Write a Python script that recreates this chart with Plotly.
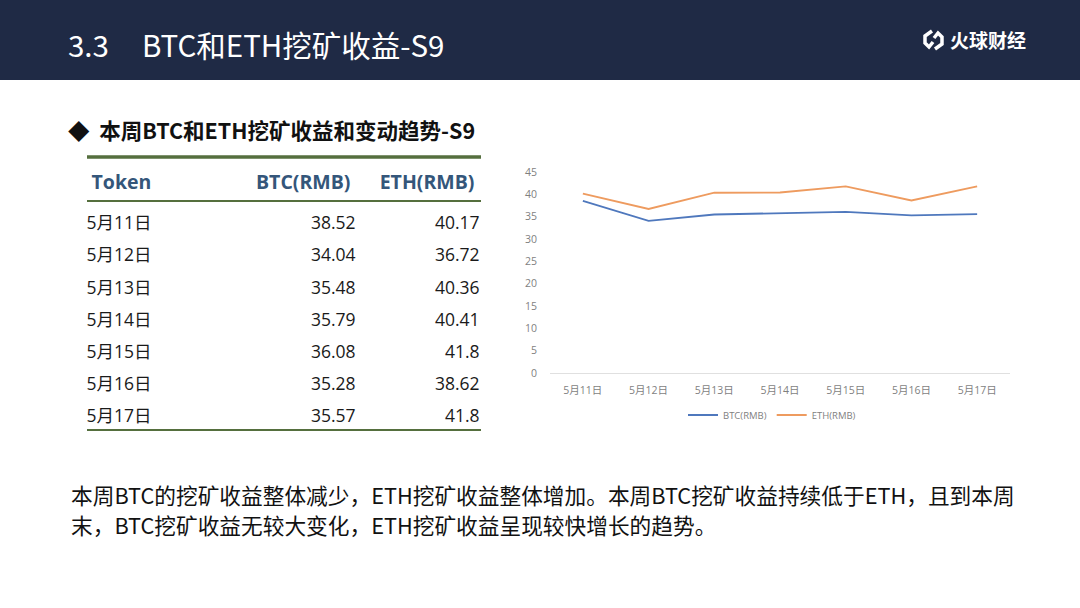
import plotly.graph_objects as go

# data
dates = ['5月11日', '5月12日', '5月13日', '5月14日', '5月15日', '5月16日', '5月17日']
btc_rmb = [38.52, 34.04, 35.48, 35.79, 36.08, 35.28, 35.57]
eth_rmb = [40.17, 36.72, 40.36, 40.41, 41.8, 38.62, 41.8]
eth_labels = ['40.17', '36.72', '40.36', '40.41', '41.8', '38.62', '41.8']
table_header = ['\u00a0<b>Token</b>', '<b>BTC(RMB)</b>\u00a0', '<b>ETH(RMB)</b>\u00a0']
y_ticks = [0, 5, 10, 15, 20, 25, 30, 35, 40, 45]

W, H = 1080, 608
CJK = 'Noto Sans CJK SC'
TBL = 'Open Sans, Noto Sans CJK SC'
GREEN = '#556f3e'


def px(v):
    return v / W


def py(v):
    return 1 - v / H


fig = go.Figure()

# table on the left
fig.add_trace(go.Table(
    domain=dict(x=[px(78.5), px(488)], y=[py(434), py(160)]),
    columnwidth=[175, 110, 124],
    header=dict(
        values=table_header,
        align=['left', 'right', 'right'],
        font=dict(family=TBL, size=19.5, color='#34567a'),
        fill_color='white',
        line_color='white',
        height=48,
    ),
    cells=dict(
        values=[dates, [f'{v:.2f}' for v in btc_rmb], eth_labels],
        align=['left', 'right', 'right'],
        font=dict(family=TBL, size=17.5, color='#1a1a1a'),
        fill_color='white',
        line_color='white',
        height=32.2,
    ),
))

# line chart on the right
fig.add_trace(go.Scatter(
    x=dates, y=btc_rmb, name='BTC(RMB)', mode='lines',
    line=dict(color='#4f78bd', width=1.8),
))
fig.add_trace(go.Scatter(
    x=dates, y=eth_rmb, name='ETH(RMB)', mode='lines',
    line=dict(color='#ee9b5f', width=1.8),
))

fig.update_layout(
    width=W, height=H, autosize=False,
    margin=dict(l=0, r=0, t=0, b=0, pad=0, autoexpand=False),
    paper_bgcolor='white',
    plot_bgcolor='white',
    font=dict(family=CJK, color='#808080'),
    xaxis=dict(
        domain=[px(550), px(1010)], automargin=False,
        range=[-0.5, 6.5],
        showgrid=False, zeroline=False,
        showline=False,
        tickfont=dict(family=TBL, size=10.5, color='#7f7f7f'),
        ticks='', ticklabelstandoff=9,
    ),
    yaxis=dict(
        domain=[py(373), py(172)], automargin=False,
        range=[0, 45], tickvals=y_ticks,
        showgrid=False, zeroline=True, zerolinecolor='#e0e0e0', zerolinewidth=1,
        showline=False,
        tickfont=dict(family=TBL, size=10.5, color='#7f7f7f'),
        ticks='', ticklabelstandoff=12,
    ),
    legend=dict(
        orientation='h', x=px(772), xanchor='center', y=py(415), yanchor='middle',
        font=dict(family=TBL, size=9.5, color='#7f7f7f'),
        itemwidth=30, tracegroupgap=0,
    ),
    showlegend=True,
)

# header band and rules
fig.add_shape(type='rect', xref='paper', yref='paper', x0=0, x1=1, y0=py(80), y1=1,
              fillcolor='#1f2a45', line_width=0, layer='below')
fig.add_shape(type='line', xref='paper', yref='paper', x0=px(87), x1=px(481), y0=py(157), y1=py(157),
              line=dict(color=GREEN, width=3.5))
fig.add_shape(type='line', xref='paper', yref='paper', x0=px(87), x1=px(481), y0=py(201), y1=py(201),
              line=dict(color=GREEN, width=2.2))
fig.add_shape(type='line', xref='paper', yref='paper', x0=px(87), x1=px(481), y0=py(430), y1=py(430),
              line=dict(color=GREEN, width=2.2))

# logo icon
icon_paths = [
    [(932, 31), (925, 36), (925, 43), (929, 47), (933, 42)],
    [(934, 38), (938, 33), (942, 37), (942, 44), (935, 49)],
]
for pts in icon_paths:
    path = 'M ' + ' L '.join(f'{px(x):.5f},{py(y):.5f}' for x, y in pts)
    fig.add_shape(type='path', xref='paper', yref='paper', path=path,
                  line=dict(color='white', width=3.5))

texts = [
    dict(text='3.3\u00a0\u00a0\u00a0\u00a0\u00a0BTC和ETH挖矿收益-S9', x=px(66), y=py(44), size=29.5, color='white'),
    dict(text='<b>◆  本周BTC和ETH挖矿收益和变动趋势-S9</b>', x=px(66), y=py(129), size=21.5, color='#111111'),
    dict(text='本周BTC的挖矿收益整体减少，ETH挖矿收益整体增加。本周BTC挖矿收益持续低于ETH，且到本周',
         x=px(69), y=py(494.5), size=21.7, color='#111111'),
    dict(text='末，BTC挖矿收益无较大变化，ETH挖矿收益呈现较快增长的趋势。',
         x=px(69), y=py(524), size=21.7, color='#111111'),
]
for t in texts:
    fig.add_annotation(text=t['text'], x=t['x'], y=t['y'], xref='paper', yref='paper',
                       xanchor='left', yanchor='middle', showarrow=False,
                       font=dict(family=CJK, size=t['size'], color=t['color']))

# logo text
fig.add_annotation(text='<b>火球财经</b>', x=px(1028), y=py(40), xref='paper', yref='paper',
                   xanchor='right', yanchor='middle', showarrow=False,
                   font=dict(family=CJK, size=19, color='white'))

fig.write_html('out.html', config={'displayModeBar': False},
               post_script="document.body.style.margin='0';")
